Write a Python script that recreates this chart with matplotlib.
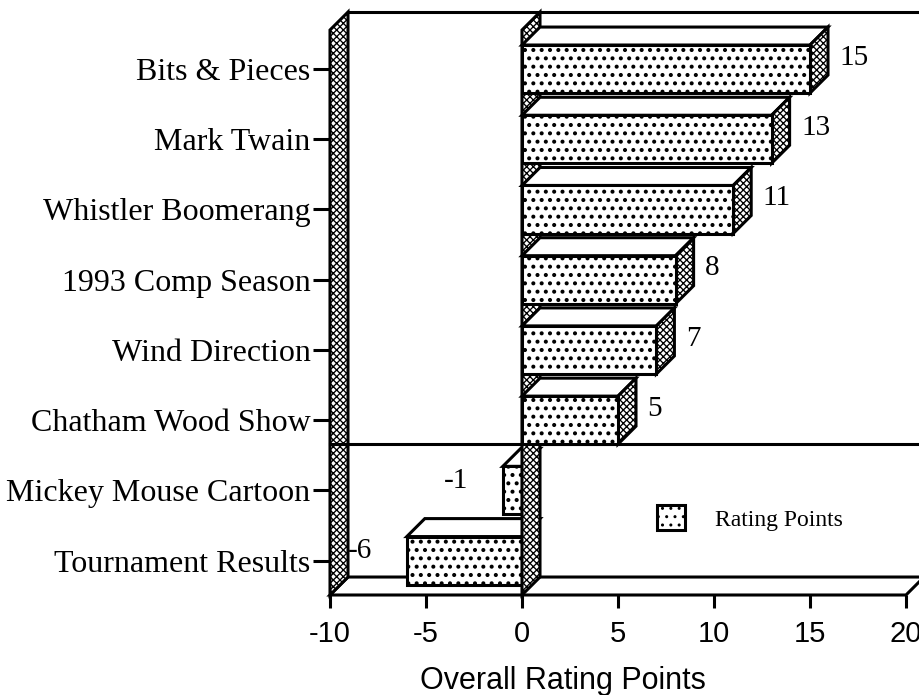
import matplotlib
matplotlib.use("Agg")
import matplotlib.pyplot as plt
from matplotlib.patches import Polygon, Patch

categories = ["Bits & Pieces", "Mark Twain", "Whistler Boomerang", "1993 Comp Season",
              "Wind Direction", "Chatham Wood Show", "Mickey Mouse Cartoon", "Tournament Results"]
points = [15, 13, 11, 8, 7, 5, -1, -6]
x_ticks = [-10, -5, 0, 5, 10, 15, 20]

X_MIN, X_MAX = -10, 20
Y_TOP, Y_BOT = -0.556, 7.49
DX = 0.9375
DY = 0.256
BAR_H = 0.684
LW = 2.2
DOTS = ".."
CHECK = "xxxxx"


def face(ax, pts, hatch=None, z=2):
    hlw = 0.95 if hatch == CHECK else 1.7
    with plt.rc_context({"hatch.linewidth": hlw}):
        p = Polygon(pts, closed=True, facecolor="white", edgecolor="black", lw=LW,
                    hatch=hatch, joinstyle="miter", clip_on=False, zorder=z)
        if hasattr(p, "set_hatch_linewidth"):
            p.set_hatch_linewidth(hlw)
    ax.add_patch(p)


def draw_bar(ax, y, value, z):
    top = y - BAR_H / 2
    bot = y + BAR_H / 2
    x0, x1 = min(0, value), max(0, value)
    face(ax, [(x0, top), (x1, top), (x1 + DX, top - DY), (x0 + DX, top - DY)], z=z)
    if value > 0:
        face(ax, [(x1, top), (x1 + DX, top - DY), (x1 + DX, bot - DY), (x1, bot)], hatch=CHECK, z=z)
    face(ax, [(x0, top), (x1, top), (x1, bot), (x0, bot)], hatch=DOTS, z=z)


fig = plt.figure(figsize=(9.2, 6.95), dpi=100)
ax = fig.add_axes([330 / 920, 100 / 695, 576 / 920, 565 / 695])
ax.set_xlim(X_MIN, X_MAX)
ax.set_ylim(Y_BOT, Y_TOP)
for s in ax.spines.values():
    s.set_visible(False)

# back wall and floor
ax.plot([X_MIN + DX, X_MAX + DX, X_MAX + DX], [Y_TOP - DY, Y_TOP - DY, Y_BOT - DY],
        color="black", lw=LW, clip_on=False, zorder=1)
face(ax, [(X_MIN, Y_BOT), (X_MAX, Y_BOT), (X_MAX + DX, Y_BOT - DY), (X_MIN + DX, Y_BOT - DY)], z=1)
face(ax, [(X_MIN, Y_TOP), (X_MIN + DX, Y_TOP - DY), (X_MIN + DX, Y_BOT - DY), (X_MIN, Y_BOT)],
     hatch=CHECK, z=1.5)

n_pos = sum(1 for p in points if p > 0)
y_div = (n_pos - 1) + BAR_H / 2
ax.plot([X_MIN, X_MAX + DX], [y_div, y_div], color="black", lw=LW, clip_on=False, zorder=1.8)

for i, v in enumerate(points):
    if v < 0:
        draw_bar(ax, i, v, 2)

# wall at zero
face(ax, [(0, Y_TOP), (DX, Y_TOP - DY), (DX, Y_BOT - DY), (0, Y_BOT)], hatch=CHECK, z=3)

for i, v in enumerate(points):
    if v > 0:
        draw_bar(ax, i, v, 4)

for i, v in enumerate(points):
    if v > 0:
        ax.text(v + DX + 0.6, i - 0.16, str(v), ha="left", va="center",
                fontfamily="Liberation Serif", fontsize=21, zorder=5)
    else:
        ax.text(v - 1.82, i - 0.13, str(v), ha="right", va="center",
                fontfamily="Liberation Serif", fontsize=21, zorder=5)

ax.set_yticks(range(len(categories)))
ax.set_yticklabels(categories, fontfamily="Liberation Serif", fontsize=23)
ax.tick_params(axis="y", length=12, width=LW, pad=2)
ax.set_xticks(x_ticks)
ax.set_xticklabels([str(t) for t in x_ticks], fontfamily="Liberation Sans", fontsize=21)
ax.tick_params(axis="x", length=9, width=LW, pad=9)

ax.set_xlabel("Overall Rating Points", fontfamily="Liberation Sans", fontsize=22)
ax.xaxis.set_label_coords((563 - 330) / 576, -0.125)

with plt.rc_context({"hatch.linewidth": 1.7}):
    handle = Patch(facecolor="white", edgecolor="black", hatch=DOTS, lw=LW, label="Rating Points")
ax.legend(handles=[handle],
          loc="center left", bbox_to_anchor=(657 / 920, 1 - 518 / 695), bbox_transform=fig.transFigure,
          frameon=False, prop={"family": "Liberation Serif", "size": 17},
          handlelength=1.2, handleheight=1.27, handletextpad=1.27, borderpad=0, borderaxespad=0)

fig.savefig("out.png", dpi=100)
